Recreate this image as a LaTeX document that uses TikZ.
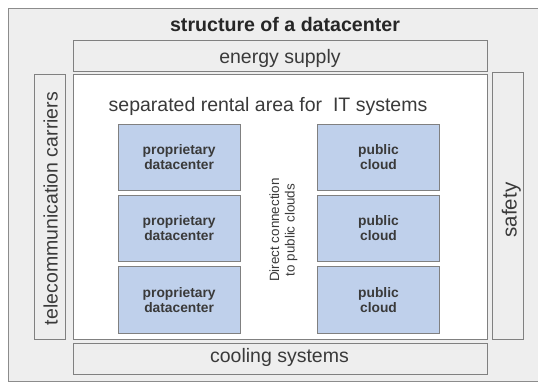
\documentclass[tikz,border=0pt]{standalone}
\usepackage{fontspec}
\setmainfont{Liberation Sans}
\definecolor{bgray}{HTML}{EEEEEE}
\definecolor{lgray}{HTML}{808080}
\definecolor{ogray}{HTML}{8C8C8C}
\definecolor{bluefill}{HTML}{BFD0EB}
\definecolor{txt}{HTML}{3A3A3A}
\definecolor{ttl}{HTML}{262626}
\begin{document}
\begin{tikzpicture}[x=1pt,y=-1pt,
  frame/.style={draw=lgray,line width=1pt},
  bluebox/.style={frame,fill=bluefill,inner sep=0pt,minimum width=121.7pt,minimum height=66.5pt,
     align=center,font=\fontsize{13.8}{15}\selectfont\bfseries,text=txt},
  lbl/.style={anchor=base,font=\fontsize{19.5}{22}\selectfont,text=txt,inner sep=0pt}]
\useasboundingbox (0,0) rectangle (538,383);
\clip (0,0) rectangle (538,383);
% outer area
\path[draw=ogray,line width=0.9pt,fill=bgray] (8.3,8.3) rectangle (560,381.7);
\node[anchor=base,font=\fontsize{19.6}{22}\selectfont\bfseries,text=ttl,inner sep=0pt] (title) at (285,31) {structure of a datacenter};
% energy supply
\node[frame,fill=bgray,inner sep=0pt,minimum width=414pt,minimum height=30.3pt] (energy) at (280.3,55.85) {};
\node[lbl] (energyT) at (280,63.3) {energy supply};
% rental area
\node[frame,fill=white,inner sep=0pt,minimum width=414pt,minimum height=264.3pt] (rental) at (280.3,206.85) {};
\node[lbl] (rentalT) at (268,111) {separated rental area for\ \ IT systems};
% telecommunication
\node[frame,fill=bgray,inner sep=0pt,minimum width=31pt,minimum height=264.6pt] (telecom) at (49.8,207) {};
\node[lbl,rotate=90] (telecomT) at (57.5,208.5) {telecommunication carriers};
% safety
\node[frame,fill=bgray,inner sep=0pt,minimum width=31pt,minimum height=266.6pt] (safety) at (507.8,206) {};
\node[lbl,rotate=90,font=\fontsize{20.5}{22}\selectfont] (safetyT) at (516.5,210) {safety};
% cooling
\node[frame,fill=bgray,inner sep=0pt,minimum width=414pt,minimum height=30.7pt] (cooling) at (280.3,358.65) {};
\node[lbl] (coolingT) at (279.5,362) {cooling systems};
% proprietary datacenters
\node[bluebox] (p1) at (179.15,157.5) {proprietary\\datacenter};
\node[bluebox] (p2) at (179.15,228.35) {proprietary\\datacenter};
\node[bluebox] (p3) at (179.15,300) {proprietary\\datacenter};
% public clouds
\node[bluebox,minimum width=122.4pt] (c1) at (378.5,157.5) {public\\cloud};
\node[bluebox,minimum width=122.4pt] (c2) at (378.5,228.35) {public\\cloud};
\node[bluebox,minimum width=122.4pt] (c3) at (378.5,300) {public\\cloud};
% direct connection
\node[rotate=90,align=center,font=\fontsize{13.4}{15.5}\selectfont,text=txt,inner sep=0pt] (direct) at (283.5,230) {Direct connection\\to public clouds};
\end{tikzpicture}
\end{document}
